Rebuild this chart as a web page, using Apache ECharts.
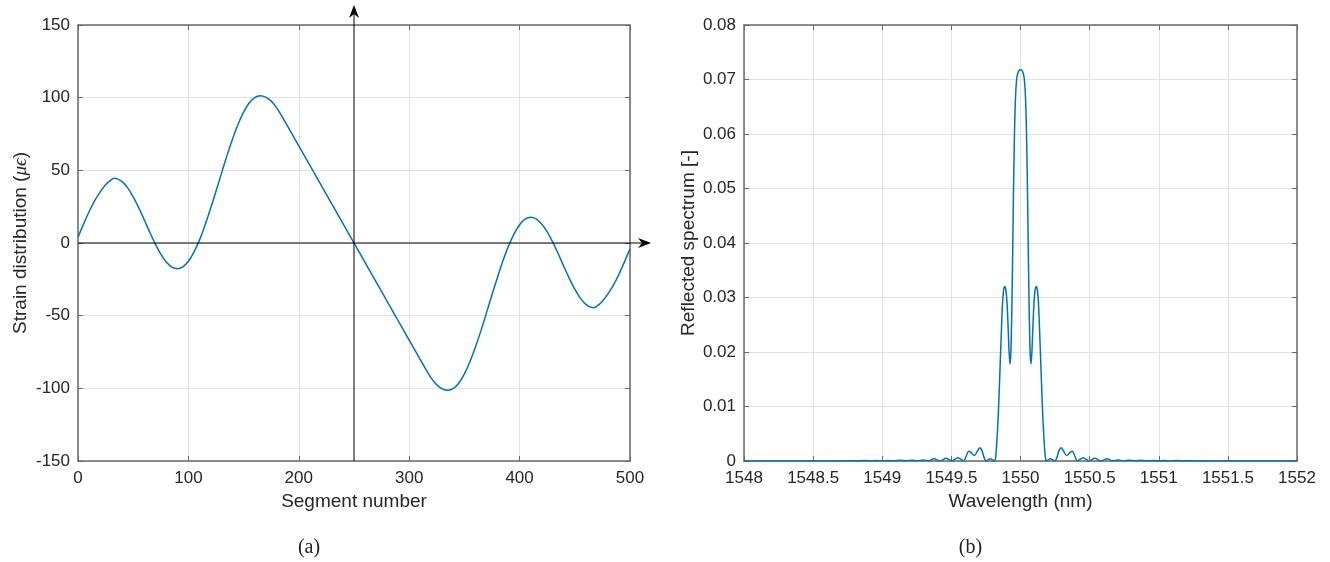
<!DOCTYPE html>
<html>
<head>
<meta charset="utf-8">
<script src="https://cdn.jsdelivr.net/npm/echarts@6/dist/echarts.min.js"></script>
<style>
html,body{margin:0;padding:0;background:#fff;}
#c{width:1330px;height:562px;}
</style>
</head>
<body>
<div id="c"></div>
<script>
// ---- Data: (a) strain distribution ----
const segX = [0,5,10,15,20,25,30,33,35,40,45,50,55,60,65,70,75,80,85,90,95,100,105,110,115,120,125,130,135,140,145,150,155,160,165,170,175,180,185,190,195,200,205,210,215,220,225,230,235,240,245,250,
  255,260,265,270,275,280,285,290,295,300,305,310,315,320,325,330,335,340,345,350,355,360,365,370,375,380,385,390,395,400,405,410,415,420,425,430,435,440,445,450,455,460,465,467,470,475,480,485,490,495,500];
const strain = [4,13,21.5,29,35,40,43.5,44.5,44.3,42.2,37.9,31.8,24.3,16.0,7.4,-0.6,-7.7,-13.1,-16.6,-17.7,-16.4,-12.6,-6.3,2.0,12.1,23.5,35.6,48.1,60.3,71.6,81.7,90.0,96.3,100.1,101.4,100.4,97.6,93.0,86.8,80.2,73.5,66.8,60.2,53.5,46.8,40.1,33.4,26.7,20.1,13.4,6.7,0,
  -6.7,-13.4,-20.1,-26.7,-33.4,-40.1,-46.8,-53.5,-60.2,-66.8,-73.5,-80.2,-86.8,-93.0,-97.6,-100.4,-101.4,-100.1,-96.3,-90.0,-81.7,-71.6,-60.3,-48.1,-35.6,-23.5,-12.1,-2.0,6.3,12.6,16.4,17.7,16.6,13.1,7.7,0.6,-7.4,-16.0,-24.3,-31.8,-37.9,-42.2,-44.3,-44.5,-43.5,-40,-35,-29,-21.5,-13,-4];

// ---- Data: (b) reflected spectrum ----
const wavelength = [1548.00,1548.50,1548.80,1548.87,1548.92,1548.96,1549.00,1549.04,1549.085,1549.13,1549.17,1549.215,1549.255,1549.295,1549.335,1549.372,1549.42,1549.461,1549.505,1549.546,1549.589,1549.61,1549.625,1549.64,1549.667,1549.69,1549.705,1549.72,1549.74,1549.754,1549.77,1549.783,1549.80,1549.814,1549.822,1549.830,1549.838,1549.846,1549.854,1549.862,1549.870,1549.878,1549.886,1549.894,1549.902,1549.910,1549.918,1549.925,1549.932,1549.940,1549.948,1549.956,1549.964,1549.972,1549.980,1549.990,1550.000,
  1550.010,1550.020,1550.028,1550.036,1550.044,1550.052,1550.060,1550.068,1550.075,1550.082,1550.090,1550.098,1550.106,1550.114,1550.122,1550.130,1550.138,1550.146,1550.154,1550.162,1550.170,1550.178,1550.186,1550.200,1550.212,1550.230,1550.246,1550.26,1550.28,1550.295,1550.31,1550.333,1550.36,1550.375,1550.39,1550.411,1550.454,1550.495,1550.539,1550.58,1550.628,1550.665,1550.705,1550.745,1550.785,1550.83,1550.87,1550.915,1550.96,1551.00,1551.04,1551.08,1551.13,1551.20,1551.50,1552.00];
const reflect = [0,0,0.00005,0.00008,0.00003,0.0001,0.00003,0.0001,0.00003,0.00012,0.00003,0.00015,0.00003,0.0002,0.00003,0.0004,0.00002,0.0005,0.00002,0.0006,0.00002,0.0011,0.0018,0.0016,0.0010,0.0019,0.00245,0.0020,0.0004,0.0000,0.0003,0.0004,0.0002,0.0000,0.0012,0.0040,0.0078,0.0128,0.0185,0.0240,0.0290,0.0314,0.0320,0.0314,0.0292,0.0248,0.0198,0.0178,0.0212,0.0320,0.0470,0.0595,0.0668,0.0700,0.0711,0.0717,0.0718,
  0.0717,0.0711,0.0700,0.0668,0.0595,0.0470,0.0320,0.0212,0.0178,0.0198,0.0248,0.0292,0.0314,0.0320,0.0314,0.0290,0.0240,0.0185,0.0128,0.0078,0.0040,0.0012,0.0000,0.0002,0.0004,0.0003,0.0000,0.0004,0.0020,0.00245,0.0019,0.0010,0.0016,0.0018,0.0011,0.00002,0.0006,0.00002,0.0005,0.00002,0.0004,0.00003,0.0002,0.00003,0.00015,0.00003,0.00012,0.00003,0.0001,0.00003,0.0001,0.00003,0.00008,0.00005,0,0];

// ---- Tick settings ----
const segTicks = {min:0, max:500, interval:100};
const strainTicks = {min:-150, max:150, interval:50};
const wlTicks = {min:1548, max:1552, interval:0.5};
const rTicks = {min:0, max:0.08, interval:0.01};

const FONT = '"Liberation Sans", Arial, Helvetica, sans-serif';
const txt = '#262626';
const axCol = '#6a6a6a';

function mainX(grid, t, name, fmt){
  return {type:'value', gridIndex:grid, min:t.min, max:t.max, interval:t.interval, position:'bottom',
    name:name, nameLocation:'middle', nameGap:30,
    nameTextStyle:{fontFamily:FONT, fontSize:19, color:txt},
    axisLine:{onZero:false, lineStyle:{color:axCol, width:1.5}},
    axisTick:{inside:true, length:5, lineStyle:{color:axCol}},
    axisLabel:{fontFamily:FONT, fontSize:17, color:txt, margin:9, formatter:fmt},
    splitLine:{show:true, lineStyle:{color:'#e2e2e2', width:1}}};
}
function mirrorX(grid, t){
  return {type:'value', gridIndex:grid, min:t.min, max:t.max, interval:t.interval, position:'top',
    axisLine:{onZero:false, lineStyle:{color:axCol, width:1.5}},
    axisTick:{inside:true, length:5, lineStyle:{color:axCol}},
    axisLabel:{show:false}, splitLine:{show:false}};
}
function mainY(grid, t, name, gap, fmt, rich){
  return {type:'value', gridIndex:grid, min:t.min, max:t.max, interval:t.interval, position:'left',
    name:name, nameLocation:'middle', nameGap:gap,
    nameTextStyle:{fontFamily:FONT, fontSize:19, color:txt, rich:rich||{}},
    axisLine:{show:true, onZero:false, lineStyle:{color:axCol, width:1.5}},
    axisTick:{show:true, inside:true, length:5, lineStyle:{color:axCol}},
    axisLabel:{fontFamily:FONT, fontSize:17, color:txt, margin:8, formatter:fmt},
    splitLine:{show:true, lineStyle:{color:'#e2e2e2', width:1}}};
}
function mirrorY(grid, t){
  return {type:'value', gridIndex:grid, min:t.min, max:t.max, interval:t.interval, position:'right',
    axisLine:{show:true, onZero:false, lineStyle:{color:axCol, width:1.5}},
    axisTick:{show:true, inside:true, length:5, lineStyle:{color:axCol}},
    axisLabel:{show:false}, splitLine:{show:false}};
}

const chart = echarts.init(document.getElementById('c'), null, {renderer:'canvas'});
const option = {
  backgroundColor:'#ffffff',
  animation:false,
  grid:[
    {left:78, top:25, width:552, height:436},
    {left:744, top:25, width:553, height:436}
  ],
  xAxis:[
    mainX(0, segTicks, 'Segment number', v => String(v)),
    mirrorX(0, segTicks),
    mainX(1, wlTicks, 'Wavelength (nm)', v => String(Math.round(v * 10) / 10)),
    mirrorX(1, wlTicks)
  ],
  yAxis:[
    mainY(0, strainTicks, 'Strain distribution ({m|μϵ})', 48, v => String(v),
      {m:{fontFamily:'"Liberation Serif", serif', fontStyle:'italic', fontSize:19, color:txt}}),
    mirrorY(0, strainTicks),
    mainY(1, rTicks, 'Reflected spectrum [-]', 46, v => (v === 0 ? '0' : v.toFixed(2))),
    mirrorY(1, rTicks)
  ],
  series:[
    {type:'line', xAxisIndex:0, yAxisIndex:0, data:segX.map((x,i)=>[x, strain[i]]),
      smooth:0.25, showSymbol:false, lineStyle:{color:'#0072BD', width:1.5}, silent:true, z:3},
    {type:'line', xAxisIndex:2, yAxisIndex:2, data:wavelength.map((x,i)=>[x, reflect[i]]),
      smooth:0.3, showSymbol:false, lineStyle:{color:'#0072BD', width:1.5}, silent:true, z:3}
  ]
};
chart.setOption(option);

// Arrowed coordinate axes through (250, 0) for panel (a), plus captions
const pOrigin = chart.convertToPixel({gridIndex:0}, [0, 0]);
const pEnd = chart.convertToPixel({gridIndex:0}, [500, 0]);
const pBot = chart.convertToPixel({gridIndex:0}, [250, -150]);
const pTop = chart.convertToPixel({gridIndex:0}, [250, 150]);
const hx = pEnd[0] + 21, hy = pOrigin[1];
const vx = pBot[0], vy = pTop[1] - 20;
const capA = chart.convertToPixel({gridIndex:0}, [250, -150]);
const capB = chart.convertToPixel({gridIndex:1}, [1550, 0]);

chart.setOption({
  graphic:[
    {type:'line', z:10, shape:{x1:pOrigin[0], y1:hy, x2:hx-9, y2:hy}, style:{stroke:'#000', lineWidth:1}},
    {type:'polygon', z:10, shape:{points:[[hx,hy],[hx-13,hy-5],[hx-9,hy],[hx-13,hy+5]]}, style:{fill:'#000'}},
    {type:'line', z:10, shape:{x1:vx, y1:pBot[1], x2:vx, y2:vy+9}, style:{stroke:'#000', lineWidth:1}},
    {type:'polygon', z:10, shape:{points:[[vx,vy],[vx-5,vy+13],[vx,vy+9],[vx+5,vy+13]]}, style:{fill:'#000'}},
    {type:'text', x:capA[0]-45, y:capA[1]+87, style:{text:'(a)', align:'center', verticalAlign:'middle', font:'20px "Liberation Serif", serif', fill:'#222'}},
    {type:'text', x:capB[0]-50, y:capB[1]+87, style:{text:'(b)', align:'center', verticalAlign:'middle', font:'20px "Liberation Serif", serif', fill:'#222'}}
  ]
});
</script>
</body>
</html>
